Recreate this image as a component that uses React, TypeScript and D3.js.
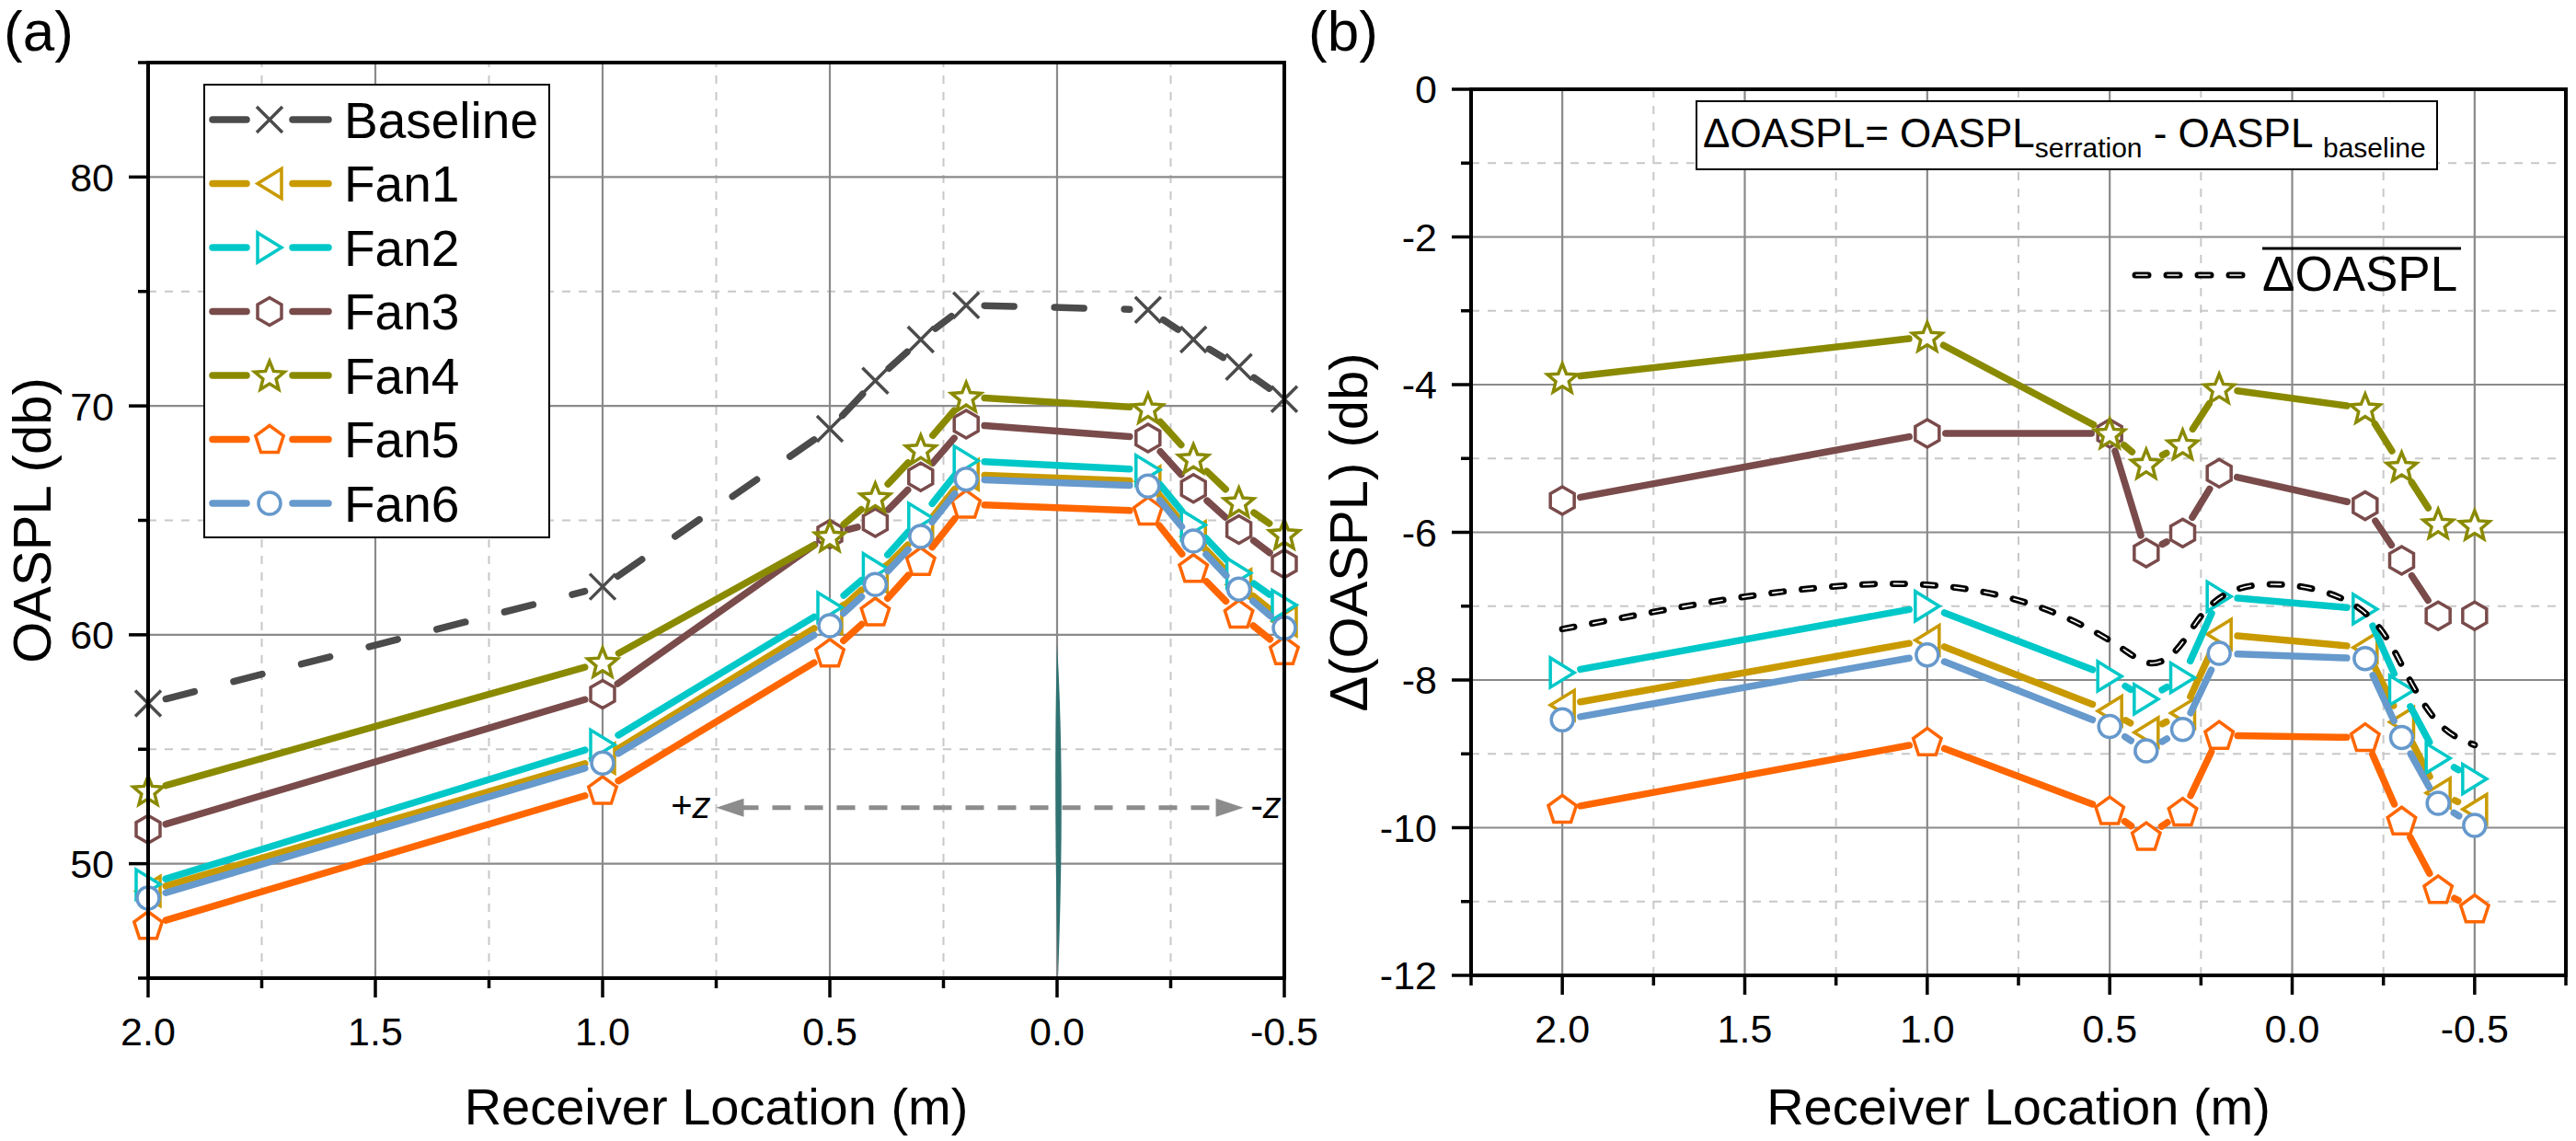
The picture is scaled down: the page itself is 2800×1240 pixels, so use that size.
import React from "react";
import * as d3 from "d3";

// receiver locations (m)
const locations = [2.0, 1.0, 0.5, 0.4, 0.3, 0.2, -0.2, -0.3, -0.4, -0.5];

// (a) OASPL (db)
const baselineOaspl = [57.0, 62.1, 69.0, 71.1, 72.9, 74.4, 74.2, 72.9, 71.7, 70.3];
const fan1Oaspl = [48.8, 54.6, 60.7, 62.5, 64.5, 67.0, 66.7, 64.3, 62.2, 60.6];
const fan2Oaspl = [49.1, 55.2, 61.2, 62.9, 65.1, 67.6, 67.2, 64.8, 62.7, 61.3];
const fan3Oaspl = [51.5, 57.4, 64.4, 64.9, 66.9, 69.2, 68.6, 66.4, 64.6, 63.1];
const fan4Oaspl = [53.2, 58.8, 64.3, 66.0, 68.1, 70.4, 69.9, 67.7, 65.8, 64.4];
const fan5Oaspl = [47.3, 53.2, 59.2, 61.0, 63.2, 65.7, 65.4, 62.9, 60.9, 59.3];
const fan6Oaspl = [48.5, 54.4, 60.4, 62.2, 64.3, 66.8, 66.5, 64.1, 62.0, 60.3];

// (b) delta OASPL (db)
const fan1Delta = [-8.34, -7.46, -8.42, -8.71, -8.45, -7.38, -7.56, -8.57, -9.53, -9.75];
const fan2Delta = [-7.90, -7.00, -7.95, -8.26, -7.97, -6.87, -7.04, -8.14, -9.06, -9.34];
const fan3Delta = [-5.57, -4.66, -4.66, -6.28, -6.01, -5.20, -5.64, -6.38, -7.13, -7.13];
const fan4Delta = [-3.91, -3.35, -4.66, -5.07, -4.81, -4.05, -4.32, -5.11, -5.88, -5.90];
const fan5Delta = [-9.75, -8.84, -9.77, -10.12, -9.79, -8.75, -8.78, -9.91, -10.84, -11.10];
const fan6Delta = [-8.54, -7.66, -8.63, -8.96, -8.67, -7.64, -7.71, -8.78, -9.67, -9.97];
// control points of the smoothed mean curve
const meanDelta = [-7.31, -6.38, -7.35, -7.90, -7.62, -6.55, -6.80, -7.82, -8.69, -8.88];

const seriesNames = ["Baseline", "Fan1", "Fan2", "Fan3", "Fan4", "Fan5", "Fan6"];
const seriesColors = ["#4b4b4b", "#c99a00", "#00c8c8", "#7a4b4b", "#8a8a00", "#ff6600", "#6699cc"];
const seriesShapes = ["x", "triLeft", "triRight", "hexagon", "star", "pentagon", "circle"];

const xMajor = [2.0, 1.5, 1.0, 0.5, 0.0, -0.5];
const xMinorA = [1.75, 1.25, 0.75, 0.25, -0.25];
const xMinorB = [2.25, 1.75, 1.25, 0.75, 0.25, -0.25, -0.75];
const yMajorA = [50, 60, 70, 80];
const yMinorA = [45, 55, 65, 75, 85];
const yMajorB = [0, -2, -4, -6, -8, -10, -12];
const yMinorB = [-1, -3, -5, -7, -9, -11];

const FONT = "'Liberation Sans', Arial, sans-serif";

const xA = d3.scaleLinear().domain([2.0, -0.5]).range([161, 1396]);
const yA = d3.scaleLinear().domain([45, 85]).range([1063, 68]);
const xB = d3.scaleLinear().domain([2.25, -0.75]).range([1599, 2789]);
const yB = d3.scaleLinear().domain([-12, 0]).range([1060, 97]);

function poly(pts: number[][]) {
  return "M" + pts.map(p => p[0].toFixed(2) + "," + p[1].toFixed(2)).join("L") + "Z";
}

function markerPath(shape: string) {
  if (shape === "x") return "M-14,-14L14,14M-14,14L14,-14";
  if (shape === "triLeft") return poly([[-13, 0], [13, -16], [13, 16]]);
  if (shape === "triRight") return poly([[13, 0], [-13, -16], [-13, 16]]);
  if (shape === "hexagon")
    return poly(d3.range(6).map(k => {
      const a = (-90 + 60 * k) * Math.PI / 180;
      return [15 * Math.cos(a), 15 * Math.sin(a)];
    }));
  if (shape === "pentagon")
    return poly(d3.range(5).map(k => {
      const a = (-90 + 72 * k) * Math.PI / 180;
      return [16 * Math.cos(a), 16 * Math.sin(a) + 1];
    }));
  if (shape === "star")
    return poly(d3.range(10).map(k => {
      const a = (-90 + 36 * k) * Math.PI / 180;
      const r = k % 2 === 0 ? 17 : 7.5;
      return [r * Math.cos(a), r * Math.sin(a) + 1.5];
    }));
  return "M-12,0A12,12 0 1,0 12,0A12,12 0 1,0 -12,0Z";
}

const line = d3.line<number[]>().x(d => d[0]).y(d => d[1]);

// segments between markers, with a small gap around every marker
function gapSegments(pts: number[][], gap: number) {
  const out: string[] = [];
  for (let i = 0; i < pts.length - 1; i++) {
    const [x0, y0] = pts[i];
    const [x1, y1] = pts[i + 1];
    const len = Math.hypot(x1 - x0, y1 - y0);
    if (len <= gap * 2 + 2) continue;
    const ux = (x1 - x0) / len, uy = (y1 - y0) / len;
    out.push(line([[x0 + ux * gap, y0 + uy * gap], [x1 - ux * gap, y1 - uy * gap]]) as string);
  }
  return out;
}

function Series({ values, xs, ys, i }: any) {
  const pts = locations.map((l, k) => [xs(l), ys(values[k])]);
  const color = seriesColors[i];
  const dashed = i === 0;
  return (
    <g>
      {gapSegments(pts, 20).map((d, k) => (
        <path key={k} d={d} fill="none" stroke={color} strokeWidth={7.5}
          strokeLinecap="round" strokeDasharray={dashed ? "32,44" : undefined} />
      ))}
      {pts.map((p, k) => (
        <path key={"m" + k} d={markerPath(seriesShapes[i])} transform={`translate(${p[0]},${p[1]})`}
          fill={seriesShapes[i] === "x" ? "none" : "#fff"} stroke={color} strokeWidth={3.5} />
      ))}
    </g>
  );
}

function Grid({ xs, ys, xMinor, yMajor, yMinor }: any) {
  const [x0, x1] = xs.range();
  const [y0, y1] = ys.range();
  return (
    <g>
      {xMinor.map((v: number) => (
        <line key={"xm" + v} x1={xs(v)} x2={xs(v)} y1={y0} y2={y1} stroke="#c8c8c8" strokeWidth={2} strokeDasharray="9,9" />
      ))}
      {yMinor.map((v: number) => (
        <line key={"ym" + v} x1={x0} x2={x1} y1={ys(v)} y2={ys(v)} stroke="#c8c8c8" strokeWidth={2} strokeDasharray="9,9" />
      ))}
      {xMajor.map((v: number) => (
        <line key={"xM" + v} x1={xs(v)} x2={xs(v)} y1={y0} y2={y1} stroke="#8a8a8a" strokeWidth={2.2} />
      ))}
      {yMajor.map((v: number) => (
        <line key={"yM" + v} x1={x0} x2={x1} y1={ys(v)} y2={ys(v)} stroke="#8a8a8a" strokeWidth={2.2} />
      ))}
    </g>
  );
}

function Axes({ xs, ys, xMinor, yMajor, yMinor, xLabelY, title, titleX }: any) {
  const [x0, x1] = xs.range();
  const [y0, y1] = ys.range();
  return (
    <g fontFamily={FONT}>
      <rect x={x0} y={y1} width={x1 - x0} height={y0 - y1} fill="none" stroke="#000" strokeWidth={4} />
      {xMajor.map((v: number) => (
        <g key={"xt" + v}>
          <line x1={xs(v)} x2={xs(v)} y1={y0} y2={y0 + 21} stroke="#000" strokeWidth={3.5} />
          <text x={xs(v)} y={xLabelY} fontSize={43} textAnchor="middle">{v.toFixed(1)}</text>
        </g>
      ))}
      {xMinor.map((v: number) => (
        <line key={"xn" + v} x1={xs(v)} x2={xs(v)} y1={y0} y2={y0 + 11} stroke="#000" strokeWidth={3.5} />
      ))}
      {yMajor.map((v: number) => (
        <g key={"yt" + v}>
          <line x1={x0 - 21} x2={x0} y1={ys(v)} y2={ys(v)} stroke="#000" strokeWidth={3.5} />
          <text x={x0 - 37} y={ys(v)} dy="0.36em" fontSize={43} textAnchor="end">{v}</text>
        </g>
      ))}
      {yMinor.map((v: number) => (
        <line key={"yn" + v} x1={x0 - 11} x2={x0} y1={ys(v)} y2={ys(v)} stroke="#000" strokeWidth={3.5} />
      ))}
      <text x={(x0 + x1) / 2} y={1222} fontSize={56} textAnchor="middle">Receiver Location (m)</text>
      <text transform={`translate(${titleX},${(y0 + y1) / 2}) rotate(-90)`} fontSize={58} textAnchor="middle">{title}</text>
    </g>
  );
}

export default function App() {
  const oaspl = [baselineOaspl, fan1Oaspl, fan2Oaspl, fan3Oaspl, fan4Oaspl, fan5Oaspl, fan6Oaspl];
  const delta = [fan1Delta, fan2Delta, fan3Delta, fan4Delta, fan5Delta, fan6Delta];

  const meanPath = d3.line<number>()
    .x((_, k) => xB(locations[k]))
    .y(d => yB(d))
    .curve(d3.curveBasis)(meanDelta) as string;

  // +z / -z arrow and the thin blade at 0.0
  const arrowY = yA(52.45);
  const ax0 = xA(0.75), ax1 = xA(-0.41);
  const bladeX = xA(0), bladeTop = yA(59.6), bladeBot = yA(45), bladeMid = yA(53.5);

  return (
    <svg width={2800} height={1240} style={{ position: "absolute", left: 0, top: 0, background: "#fff" }}>
      <rect width={2800} height={1240} fill="#fff" />

      {/* panel (a) */}
      <Grid xs={xA} ys={yA} xMinor={xMinorA} yMajor={yMajorA} yMinor={yMinorA} />
      <path d={`M${bladeX},${bladeTop}Q${bladeX + 9},${bladeMid} ${bladeX + 1},${bladeBot}Q${bladeX - 4},${bladeMid} ${bladeX},${bladeTop}Z`} fill="#2f7272" />
      <line x1={ax0 + 26} x2={ax1 - 26} y1={arrowY} y2={arrowY} stroke="#8c8c8c" strokeWidth={5} strokeDasharray="20,15" />
      <path d={poly([[ax0, arrowY], [ax0 + 30, arrowY - 10], [ax0 + 30, arrowY + 10]])} fill="#8c8c8c" />
      <path d={poly([[ax1, arrowY], [ax1 - 30, arrowY - 10], [ax1 - 30, arrowY + 10]])} fill="#8c8c8c" />
      <text x={ax0 - 6} y={arrowY + 11} fontFamily={FONT} fontSize={40} textAnchor="end">+<tspan fontStyle="italic">z</tspan></text>
      <text x={ax1 + 8} y={arrowY + 11} fontFamily={FONT} fontSize={40}>-<tspan fontStyle="italic">z</tspan></text>
      {oaspl.map((vals, i) => <Series key={i} values={vals} xs={xA} ys={yA} i={i} />)}
      <Axes xs={xA} ys={yA} xMinor={xMinorA} yMajor={yMajorA} yMinor={yMinorA} xLabelY={1136} title="OASPL (db)" titleX={55} />

      {/* legend (a) */}
      <g fontFamily={FONT}>
        <rect x={222} y={92} width={375} height={492} fill="#fff" stroke="#000" strokeWidth={2} />
        {seriesNames.map((name, i) => {
          const ly = 130 + i * 69.5;
          return (
            <g key={name}>
              <line x1={231} x2={268} y1={ly} y2={ly} stroke={seriesColors[i]} strokeWidth={7.5} strokeLinecap="round" />
              <line x1={318} x2={357} y1={ly} y2={ly} stroke={seriesColors[i]} strokeWidth={7.5} strokeLinecap="round" />
              <path d={markerPath(seriesShapes[i])} transform={`translate(293,${ly})`}
                fill={seriesShapes[i] === "x" ? "none" : "#fff"} stroke={seriesColors[i]} strokeWidth={3.5} />
              <text x={374} y={ly} dy="0.36em" fontSize={55}>{name}</text>
            </g>
          );
        })}
      </g>
      <text x={4} y={55} fontFamily={FONT} fontSize={62}>(a)</text>

      {/* panel (b) */}
      <Grid xs={xB} ys={yB} xMinor={xMinorB} yMajor={yMajorB} yMinor={yMinorB} />
      {delta.map((vals, i) => <Series key={i} values={vals} xs={xB} ys={yB} i={i + 1} />)}
      <path d={meanPath} fill="none" stroke="#000" strokeWidth={7} strokeLinecap="round" strokeDasharray="13,20" />
      <path d={meanPath} fill="none" stroke="#fff" strokeWidth={1.6} strokeLinecap="round" strokeDasharray="11,22" strokeDashoffset={-1} />
      <Axes xs={xB} ys={yB} xMinor={xMinorB} yMajor={yMajorB} yMinor={yMinorB} xLabelY={1133} title="Δ(OASPL) (db)" titleX={1486} />

      <g fontFamily={FONT}>
        <rect x={1844} y={110} width={805} height={74} fill="#fff" stroke="#000" strokeWidth={2} />
        <text x={1851} y={160} fontSize={44}>
          ΔOASPL= OASPL<tspan fontSize={30} dy={11}>serration</tspan>
          <tspan fontSize={44} dy={-11}> - OASPL </tspan>
          <tspan fontSize={30} dy={11}>baseline</tspan>
        </text>
        <line x1={2321} x2={2438} y1={299} y2={299} stroke="#000" strokeWidth={7} strokeLinecap="round" strokeDasharray="14,20" />
        <line x1={2321} x2={2438} y1={299} y2={299} stroke="#fff" strokeWidth={1.6} strokeLinecap="round" strokeDasharray="12,22" strokeDashoffset={-1} />
        <text x={2459} y={316} fontSize={53}>ΔOASPL</text>
        <line x1={2459} x2={2675} y1={270} y2={270} stroke="#000" strokeWidth={3} />
      </g>
      <text x={1422} y={55} fontFamily={FONT} fontSize={62}>(b)</text>
    </svg>
  );
}
